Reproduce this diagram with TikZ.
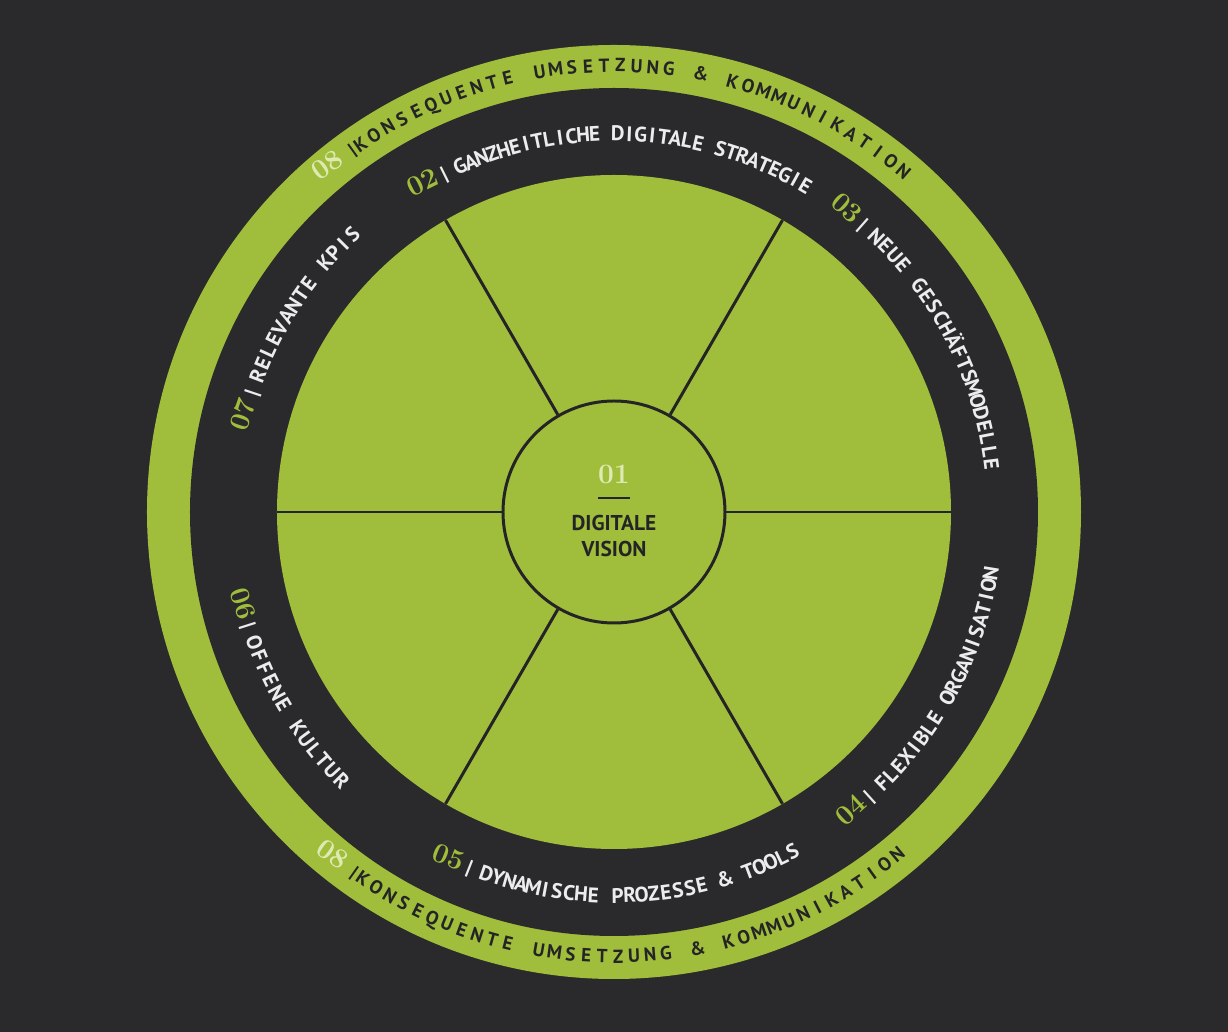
\documentclass[tikz,border=0pt]{standalone}
\usepackage{fontspec}
\setsansfont{PT Sans}

\definecolor{bgdark}{RGB}{42,42,44}
\definecolor{wheelgreen}{RGB}{160,190,60}
\definecolor{linedark}{RGB}{36,36,38}
\definecolor{labelgray}{RGB}{236,236,236}
\definecolor{numpale}{RGB}{222,234,178}

\newcommand{\numfont}{\rmfamily\bfseries\fontsize{16}{16}\selectfont}
\newcommand{\labfont}{\sffamily\bfseries\fontsize{12}{12}\selectfont}
\newcommand{\ringfont}{\sffamily\bfseries\fontsize{10.8}{10.8}\selectfont}

% letters set one by one along an arc, spread from start to end angle
\newlength{\chw}
\newlength{\totw}
\newcommand{\arctext}[6]{% start, end, radius, font, colour, letters
  \global\totw=0pt \xdef\nch{0}%
  \foreach \ch in {#6} {%
    \settowidth{\chw}{#4\ch}%
    \global\advance\totw by \chw
    \pgfmathtruncatemacro\tmpn{\nch+1}\xdef\nch{\tmpn}%
  }%
  \pgfmathsetmacro\rpt{#3*0.569055}%
  \pgfmathsetmacro\arcdir{ifthenelse(#2>#1,1,-1)}%
  \pgfmathsetmacro\trackpt{(abs(#2-#1)/57.29578*\rpt-\totw)/(\nch-1)}%
  \xdef\curang{#1}%
  \foreach \ch [count=\i] in {#6} {%
    \settowidth{\chw}{#4\ch}%
    \pgfmathsetmacro\midang{\curang+\arcdir*0.5*\chw/\rpt*57.29578}%
    \pgfmathsetmacro\rotang{\midang+\arcdir*90}%
    \node[letter, text=#5, font=#4, rotate=\rotang] (ch\i) at (\midang:#3) {\ch};
    \pgfmathsetmacro\nextang{\curang+\arcdir*(\chw+\trackpt)/\rpt*57.29578}%
    \xdef\curang{\nextang}%
  }%
}

\tikzset{
  letter/.style={inner sep=0pt, anchor=base},
  bandnum/.style={anchor=base east, inner sep=0pt, text=wheelgreen, font=\numfont},
  ringnum/.style={anchor=base east, inner sep=0pt, text=numpale, font=\numfont},
  sectorline/.style={draw=linedark, line width=1.7pt},
  hub/.style={circle, draw=linedark, line width=1.7pt, fill=wheelgreen,
      minimum size=44.4mm, inner sep=0pt}
}

\begin{document}
\begin{tikzpicture}[x=0.2mm, y=0.2mm]

  % background and rings
  \fill[bgdark] (-614,-520) rectangle (614,512);
  \fill[wheelgreen] (0,0) circle[radius=467];
  \fill[bgdark] (0,0) circle[radius=424];
  \fill[wheelgreen] (0,0) circle[radius=337];

  % six sectors round the hub
  \node[hub] (vision) at (0,0) {};
  \foreach \a in {0,60,...,300}
    \draw[sectorline] (vision.\a) -- (\a:337);

  \node[text=numpale, font=\numfont] (visionnum) at (0,38) {01};
  \draw[linedark, line width=1.7pt] (-16,14) -- (16,14);
  \node[text=linedark, font=\fontsize{12.2}{14.8}\sffamily\bfseries, align=center]
    (visionlabel) at (0,-24) {DIGITALE\\VISION};

  % 08 top and bottom
  \node[ringnum, rotate=35.6] (ringtop) at (125.6:440)
    {08\hspace{6pt}{\ringfont\color{linedark}|}};
  \arctext{124.6}{49.6}{440}{\ringfont}{linedark}
    {K,O,N,S,E,Q,U,E,N,T,E,~,U,M,S,E,T,Z,U,N,G,~,\&,~,K,O,M,M,U,N,I,K,A,T,I,O,N}
  \node[ringnum, rotate=324.6] (ringbottom) at (234.6:451)
    {08\hspace{6pt}{\ringfont\color{linedark}|}};
  \arctext{235.6}{309.6}{451}{\ringfont}{linedark}
    {K,O,N,S,E,Q,U,E,N,T,E,~,U,M,S,E,T,Z,U,N,G,~,\&,~,K,O,M,M,U,N,I,K,A,T,I,O,N}

  % 02
  \node[bandnum, rotate=26.3] (num02) at (116.3:371) {02\,{\labfont\color{labelgray}|}};
  \arctext{114}{59.6}{371}{\labfont}{labelgray}
    {G,A,N,Z,H,E,I,T,L,I,C,H,E,~,D,I,G,I,T,A,L,E,~,S,T,R,A,T,E,G,I,E}

  % 03
  \node[bandnum, rotate=-41.3] (num03) at (48.7:373) {03\,{\labfont\color{labelgray}|}};
  \arctext{46.4}{7.2}{373}{\labfont}{labelgray}
    {N,E,U,E,~,G,E,S,C,H,Ä,F,T,S,M,O,D,E,L,L,E}

  % 07
  \node[bandnum, rotate=71.4] (num07) at (161.4:374) {07\,{\labfont\color{labelgray}|}};
  \arctext{159.1}{133.3}{374}{\labfont}{labelgray}
    {R,E,L,E,V,A,N,T,E,~,K,P,I,S}

  % 04
  \node[bandnum, rotate=42.3] (num04) at (-47.7:389) {04\,{\labfont\color{labelgray}|}};
  \arctext{-45.4}{-9.2}{389}{\labfont}{labelgray}
    {F,L,E,X,I,B,L,E,~,O,R,G,A,N,I,S,A,T,I,O,N}

  % 05
  \node[bandnum, rotate=338.3] (num05) at (248.3:391) {05\,{\labfont\color{labelgray}|}};
  \arctext{250.6}{297.7}{391}{\labfont}{labelgray}
    {D,Y,N,A,M,I,S,C,H,E,~,P,R,O,Z,E,S,S,E,~,\&,~,T,O,O,L,S}

  % 06
  \node[bandnum, rotate=287.7] (num06) at (197.7:390) {06\,{\labfont\color{labelgray}|}};
  \arctext{200}{224.6}{390}{\labfont}{labelgray}
    {O,F,F,E,N,E,~,K,U,L,T,U,R}

\end{tikzpicture}
\end{document}
